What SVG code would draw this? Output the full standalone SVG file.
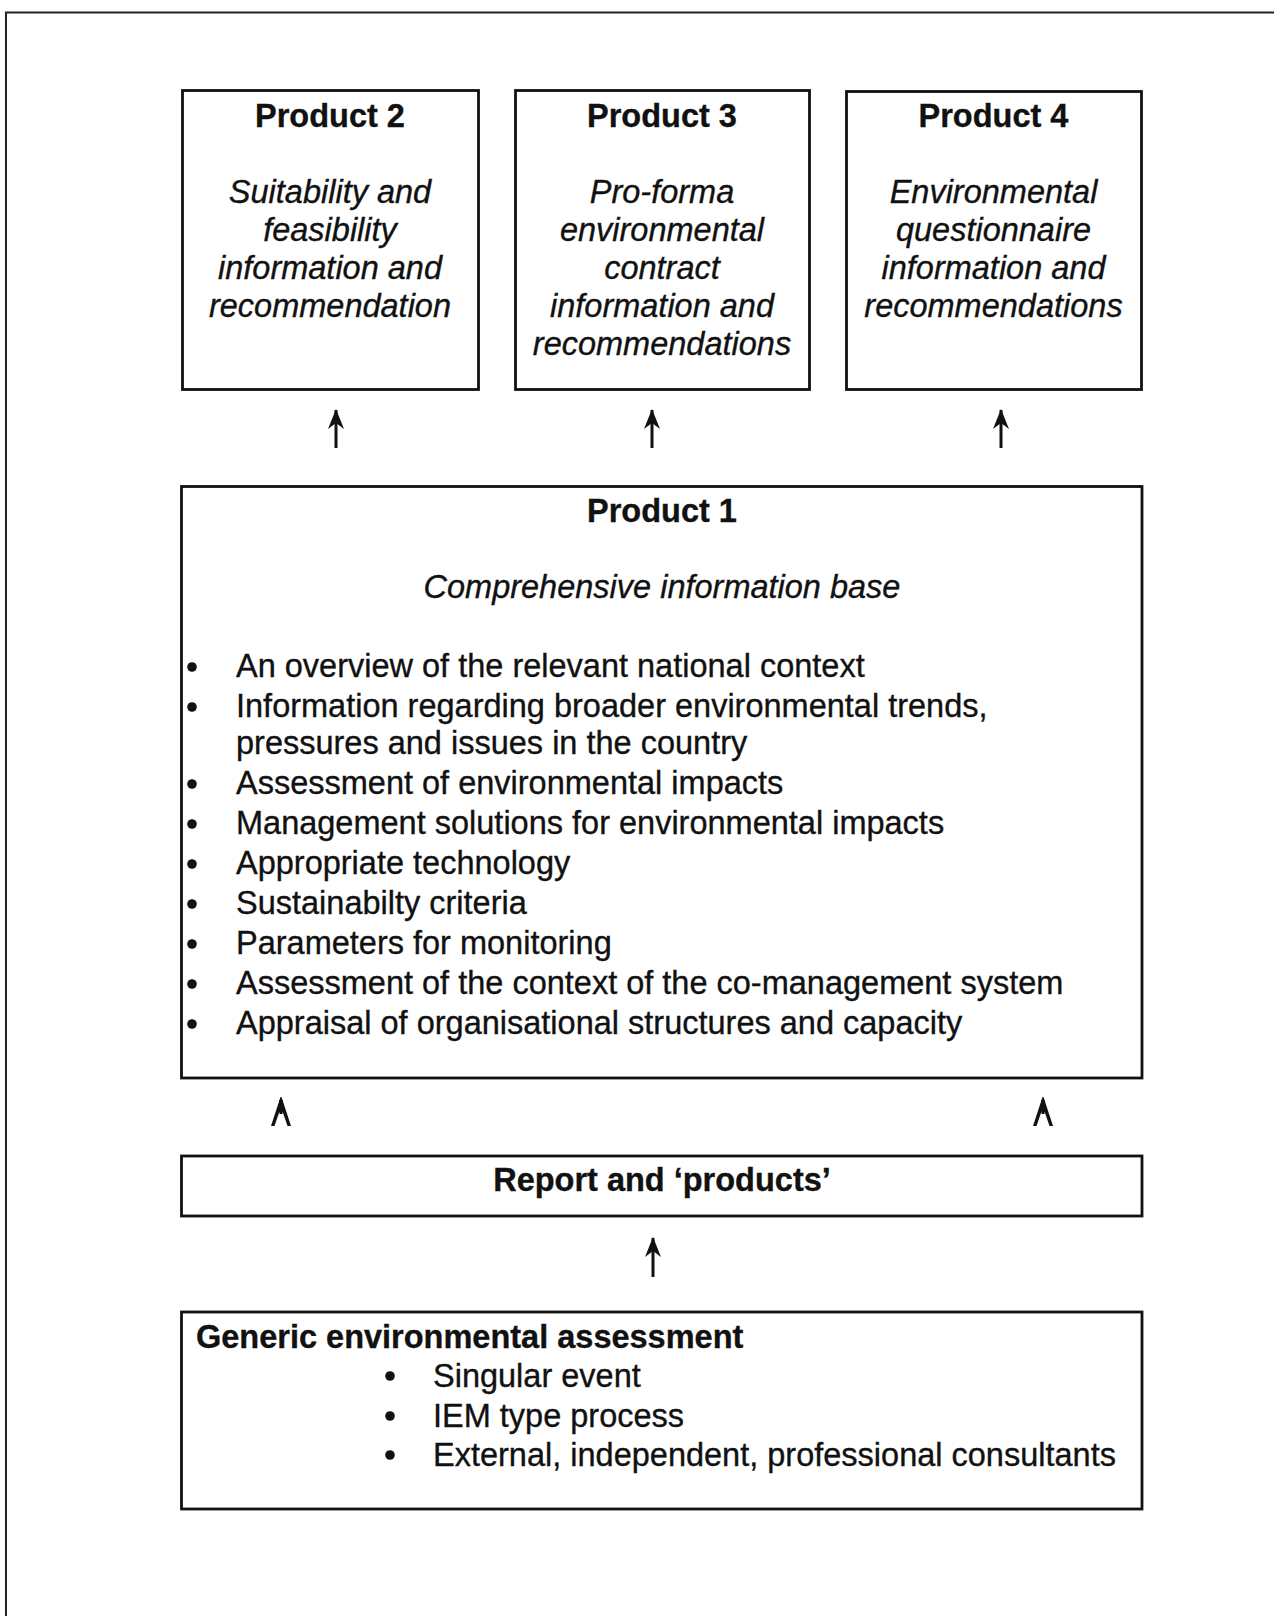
<svg xmlns="http://www.w3.org/2000/svg" xmlns:xlink="http://www.w3.org/1999/xlink" width="1274" height="1616" viewBox="0 0 1274 1616">
  <style>
    .box { fill: #ffffff; stroke: #111111; stroke-width: 2.8; }
    .frame { fill: none; stroke: #222222; stroke-width: 2; }
    text { font-family: "Liberation Sans", Arial, Helvetica, sans-serif; font-size: 32.5px; fill: #111111; stroke: #111111; stroke-width: 0.35; }
    .title { font-weight: bold; text-anchor: middle; }
    .desc { font-style: italic; text-anchor: middle; }
    .bold { font-weight: bold; }
    .shaft { stroke: #111111; stroke-width: 3; fill: none; }
    .dot { fill: #111111; }
  </style>
  <defs>
    <!-- narrow notched head for the upward arrows -->
    <marker id="up" viewBox="-9 0 18 20" refX="0" refY="0" markerWidth="18" markerHeight="20" markerUnits="userSpaceOnUse" orient="0" overflow="visible">
      <path d="M0,-1 L8,19 L0,13 L-8,19 Z" fill="#111111"/>
    </marker>
    <!-- stemless caret head -->
    <path id="caret" d="M-0.5,0 L0.5,0 L10,29 L6.5,29 L0,10 L-6.5,29 L-10,29 Z M-2,3 L2,3 L1.5,17 L-1.5,17 Z" fill="#111111"/>
  </defs>

  <!-- page frame (top and left rules) -->
  <path class="frame" d="M6,1616 L6,12.5 L1274,12.5"/>

  <g id="product2">
    <rect class="box" x="182.5" y="90.5" width="296" height="299"/>
    <text class="title" x="330" y="127">Product 2</text>
    <text class="desc" x="330" y="203">Suitability and</text>
    <text class="desc" x="330" y="241">feasibility</text>
    <text class="desc" x="330" y="279">information and</text>
    <text class="desc" x="330" y="317">recommendation</text>
  </g>

  <g id="product3">
    <rect class="box" x="515.5" y="90.5" width="294" height="299"/>
    <text class="title" x="662" y="127">Product 3</text>
    <text class="desc" x="662" y="203">Pro-forma</text>
    <text class="desc" x="662" y="241">environmental</text>
    <text class="desc" x="662" y="279">contract</text>
    <text class="desc" x="662" y="317">information and</text>
    <text class="desc" x="662" y="355">recommendations</text>
  </g>

  <g id="product4">
    <rect class="box" x="846.5" y="91.5" width="295" height="298"/>
    <text class="title" x="993.5" y="127">Product 4</text>
    <text class="desc" x="993.5" y="203">Environmental</text>
    <text class="desc" x="993.5" y="241">questionnaire</text>
    <text class="desc" x="993.5" y="279">information and</text>
    <text class="desc" x="993.5" y="317">recommendations</text>
  </g>

  <g id="product1">
    <rect class="box" x="181.5" y="486.5" width="960.5" height="591.5"/>
    <text class="title" x="662" y="522">Product 1</text>
    <text class="desc" x="662" y="598">Comprehensive information base</text>
    <g class="dot">
      <circle cx="192" cy="667" r="4.8"/>
      <circle cx="192" cy="707" r="4.8"/>
      <circle cx="192" cy="784" r="4.8"/>
      <circle cx="192" cy="824" r="4.8"/>
      <circle cx="192" cy="864" r="4.8"/>
      <circle cx="192" cy="904" r="4.8"/>
      <circle cx="192" cy="944" r="4.8"/>
      <circle cx="192" cy="984" r="4.8"/>
      <circle cx="192" cy="1024" r="4.8"/>
    </g>
    <text x="236" y="677">An overview of the relevant national context</text>
    <text x="236" y="717">Information regarding broader environmental trends,</text>
    <text x="236" y="754">pressures and issues in the country</text>
    <text x="236" y="794">Assessment of environmental impacts</text>
    <text x="236" y="834">Management solutions for environmental impacts</text>
    <text x="236" y="874">Appropriate technology</text>
    <text x="236" y="914">Sustainabilty criteria</text>
    <text x="236" y="954">Parameters for monitoring</text>
    <text x="236" y="994">Assessment of the context of the co-management system</text>
    <text x="236" y="1034">Appraisal of organisational structures and capacity</text>
  </g>

  <g id="report">
    <rect class="box" x="181.5" y="1156" width="960.5" height="60"/>
    <text class="title" x="662" y="1191">Report and ‘products’</text>
  </g>

  <g id="generic">
    <rect class="box" x="181.5" y="1312" width="960.5" height="197"/>
    <text class="bold" x="196" y="1348">Generic environmental assessment</text>
    <g class="dot">
      <circle cx="390" cy="1376" r="4.8"/>
      <circle cx="390" cy="1416" r="4.8"/>
      <circle cx="390" cy="1455" r="4.8"/>
    </g>
    <text x="433" y="1387">Singular event</text>
    <text x="433" y="1427">IEM type process</text>
    <text x="433" y="1466">External, independent, professional consultants</text>
  </g>

  <g id="connectors">
    <line class="shaft" x1="336" y1="448" x2="336" y2="410" marker-end="url(#up)"/>
    <line class="shaft" x1="652" y1="448" x2="652" y2="410" marker-end="url(#up)"/>
    <line class="shaft" x1="1001" y1="448" x2="1001" y2="410" marker-end="url(#up)"/>
    <use xlink:href="#caret" x="281" y="1097"/>
    <use xlink:href="#caret" x="1043" y="1097"/>
    <line class="shaft" x1="653" y1="1277" x2="653" y2="1238" marker-end="url(#up)"/>
  </g>
</svg>
